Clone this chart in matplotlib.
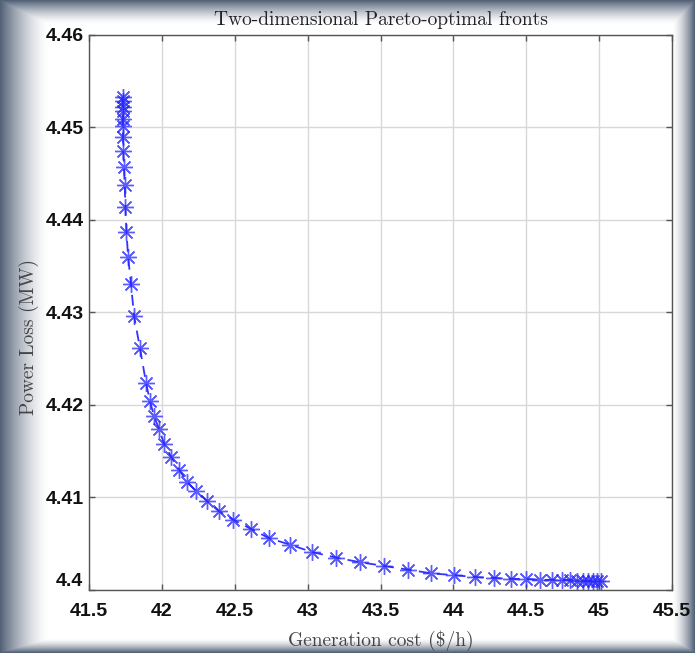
import numpy as np
import matplotlib
matplotlib.use("Agg")
import matplotlib.pyplot as plt

# ---- data ----
gen_cost = [41.73, 41.73, 41.73, 41.73, 41.73, 41.73,
            41.733, 41.735, 41.740, 41.745, 41.750, 41.757, 41.768, 41.788, 41.809,
            41.850, 41.891, 41.918, 41.946, 41.980, 42.015, 42.063, 42.118, 42.172, 42.234,
            42.310, 42.392, 42.488, 42.611, 42.735, 42.879, 43.030, 43.195, 43.359, 43.524,
            43.689, 43.847, 44.005, 44.148, 44.279, 44.395, 44.498, 44.594, 44.677, 44.745,
            44.800, 44.848, 44.890, 44.924, 44.958, 44.985, 45.013]
power_loss = [4.4533, 4.4528, 4.4522, 4.4517, 4.4509, 4.4501,
              4.4489, 4.4474, 4.4457, 4.4437, 4.4414, 4.4387, 4.4360, 4.4331, 4.4296,
              4.4261, 4.4224, 4.4204, 4.4188, 4.4174, 4.4158, 4.4144, 4.4130, 4.4117, 4.4107,
              4.4096, 4.4085, 4.4076, 4.4066, 4.4056, 4.4049, 4.4041, 4.4035, 4.4030, 4.4026,
              4.4022, 4.4018, 4.4016, 4.4014, 4.4013, 4.4012, 4.4012, 4.4011, 4.4011, 4.4011,
              4.4011, 4.4010, 4.4010, 4.4010, 4.4010, 4.4010, 4.4010]
x_ticks = [41.5, 42, 42.5, 43, 43.5, 44, 44.5, 45, 45.5]
x_tick_labels = ["41.5", "42", "42.5", "43", "43.5", "44", "44.5", "45", "45.5"]
y_ticks = [4.40, 4.41, 4.42, 4.43, 4.44, 4.45, 4.46]
y_tick_labels = ["4.4", "4.41", "4.42", "4.43", "4.44", "4.45", "4.46"]

title = "Two-dimensional Pareto-optimal fronts"
xlabel = r"Generation cost (\$/h)"
ylabel = "Power Loss (MW)"

W, H = 695, 653
fig = plt.figure(figsize=(W / 100, H / 100), dpi=100)

# ---- gradient frame background ----
bg = fig.add_axes([0, 0, 1, 1], zorder=-10)
yy, xx = np.mgrid[0:H, 0:W].astype(float)
def ramp(d, width):
    return np.clip(1 - d / width, 0, 1) ** 1.5
dark = np.maximum.reduce([ramp(xx, 48), ramp(W - 1 - xx, 22),
                          ramp(yy, 24), ramp(H - 1 - yy, 14)])
edge = np.array([84, 98, 120]) / 255.0
img = np.ones((H, W, 3)) * (1 - dark[..., None]) + edge * dark[..., None]
bg.imshow(img, aspect="auto", extent=[0, 1, 0, 1], origin="upper")
bg.set_axis_off()

# ---- main axes ----
ax = fig.add_axes([89 / W, (H - 590) / H, (672 - 89) / W, (590 - 34.5) / H])
ax.plot(gen_cost, power_loss, linestyle=(0, (6, 4)), color=(0.2, 0.2, 1.0),
        linewidth=1.3, marker=(8, 2, 0), markersize=12, markeredgewidth=1.0,
        markeredgecolor=(0.15, 0.15, 1.0, 0.75), zorder=3)

ax.set_xlim(41.5, 45.5)
ax.set_ylim(4.40, 4.46)
ax.set_xticks(x_ticks)
ax.set_xticklabels(x_tick_labels)
ax.set_yticks(y_ticks)
ax.set_yticklabels(y_tick_labels)
ax.grid(True, color="#d8d8d8", linewidth=1.0)
ax.set_axisbelow(True)
for s in ax.spines.values():
    s.set_color("#555555")
    s.set_linewidth(1.0)
ax.tick_params(direction="in", length=4, width=1, color="#555555",
               top=True, right=True)
for lab in ax.get_xticklabels() + ax.get_yticklabels():
    lab.set_fontfamily(["Liberation Sans", "DejaVu Sans"])
    lab.set_fontweight("bold")
    lab.set_fontsize(14)
    lab.set_color("#111111")
ax.tick_params(axis="x", pad=9)
ax.tick_params(axis="y", pad=4)
# nudge the lowest y label up slightly so it clears "41.5"
ax.get_yticklabels()[0].set_verticalalignment("bottom")

serif = ["cmr10", "DejaVu Serif"]
ax.set_title(title, fontfamily=serif, fontsize=14, color="#222222", pad=7)
ax.set_xlabel(xlabel, fontfamily=serif, fontsize=14, color="#444444")
ax.set_ylabel(ylabel, fontfamily=serif, fontsize=14, color="#444444")
ax.xaxis.set_label_coords(0.5, -0.072)
ax.yaxis.set_label_coords(-0.085, 0.455)

fig.savefig("out.png", dpi=100)
